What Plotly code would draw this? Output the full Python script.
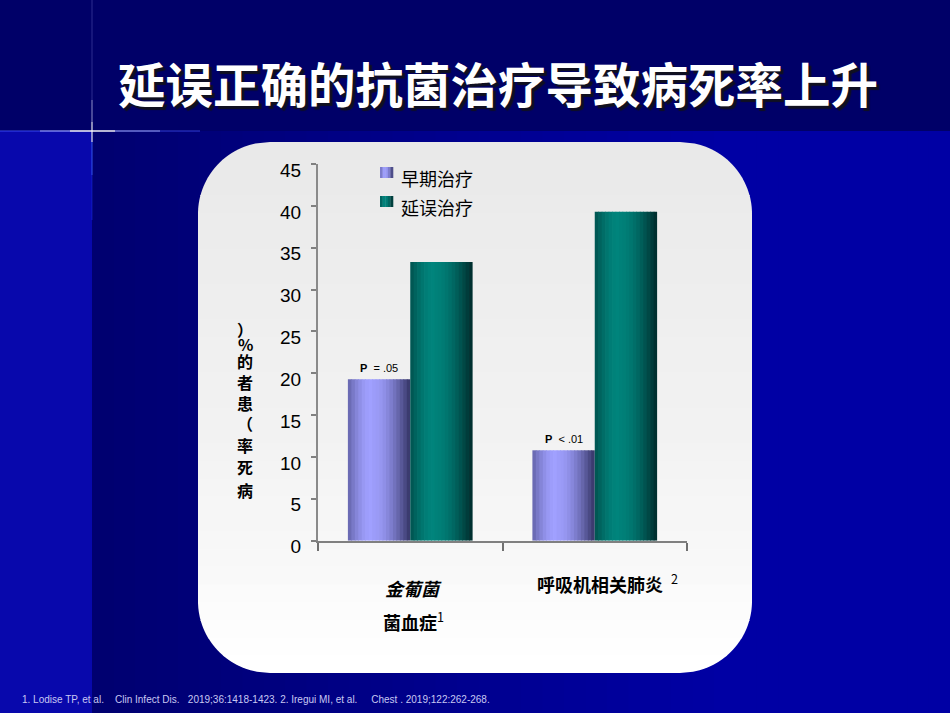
import math
import plotly.graph_objects as go

W, H = 950, 713

# ---------------- data ----------------
categories = ["金葡菌菌血症", "呼吸机相关肺炎"]
category_label_lines = [
    ["<b><i>金葡菌</i></b>", "<b>菌血症</b><sup>1</sup>"],
    ["<b>呼吸机相关肺炎</b>  <sup>2</sup>"],
]
series_names = ["早期治疗", "延误治疗"]
early_values = [19.3, 10.8]
delayed_values = [33.3, 39.3]
p_labels = ["<b>P</b>  = .05", "<b>P</b>  &lt; .01"]
y_tick_values = [0, 5, 10, 15, 20, 25, 30, 35, 40, 45]
title_text = "延误正确的抗菌治疗导致病死率上升"
y_title = "病死率（患者的%）"
footnote = ("1. Lodise TP, et al.\u00a0\u00a0\u00a0 Clin Infect Dis.\u00a0\u00a0 2019;36:1418-1423. "
            "2. Iregui MI, et al.\u00a0\u00a0\u00a0\u00a0 Chest . 2019;122:262-268.")

CJK = "Noto Sans CJK SC"
LAT = "Liberation Sans, Arial, Noto Sans CJK SC"


def px(x):
    return x / W


def py(y):
    return 1 - y / H


def rgb(c):
    return "rgb(%d,%d,%d)" % tuple(int(round(v)) for v in c)


def lerp(a, b, t):
    return tuple(a[i] + (b[i] - a[i]) * t for i in range(3))


def shade(t, dark, light, p=0.38, left=0.45):
    if t < p:
        g = left + (1 - left) * math.sin(math.pi / 2 * t / p)
    else:
        g = math.cos(math.pi / 2 * (t - p) / (1 - p)) * 0.97
    return rgb(lerp(dark, light, g))


fig = go.Figure()

# ---------------- bars (cylindrical shading via overlaid strips) ----------------
BW = 0.338
NS = 18
series = [
    (early_values, (52, 52, 100), (160, 160, 255), -BW),
    (delayed_values, (0, 42, 42), (0, 132, 124), 0.0),
]
for s, (vals, dark, light, base) in enumerate(series):
    for k in range(NS):
        t = (k + 0.5) / NS
        w = BW / NS + (0.004 if k < NS - 1 else 0)
        fig.add_trace(go.Bar(
            x=categories, y=vals,
            width=[w] * len(vals), offset=[base + k * BW / NS] * len(vals),
            marker=dict(color=shade(t, dark, light), line=dict(width=0)),
            name=series_names[s], legendgroup=series_names[s],
            showlegend=False, hoverinfo="skip",
        ))

shapes = []

# ---------------- background ----------------
shapes.append(dict(type="rect", xref="paper", yref="paper", x0=0, x1=1, y0=0, y1=1,
                   fillcolor="#000068", line=dict(width=0), layer="below"))
shapes.append(dict(type="rect", xref="paper", yref="paper", x0=0, x1=px(92), y0=py(713), y1=py(131),
                   fillcolor="#0808AC", line=dict(width=0), layer="below"))
nstrip = 40
for i in range(nstrip):
    xa = 92 + (W - 92) * i / nstrip
    xb = 92 + (W - 92) * (i + 1) / nstrip + 1
    t = min(1.0, (xa - 92) / 620)
    col = lerp((0, 0, 112), (0, 0, 164), t)
    shapes.append(dict(type="rect", xref="paper", yref="paper", x0=px(xa), x1=px(min(xb, W)),
                       y0=py(713), y1=py(131), fillcolor=rgb(col), line=dict(width=0), layer="below"))

# cross-shaped glow lines
hsegs = [(0, 40, "rgba(70,90,255,0.55)"), (40, 70, "rgba(150,160,255,0.8)"), (70, 115, "rgba(255,255,255,0.95)"),
         (115, 160, "rgba(150,160,255,0.75)"), (160, 200, "rgba(70,90,255,0.45)")]
for a, b, c in hsegs:
    shapes.append(dict(type="line", xref="paper", yref="paper", x0=px(a), x1=px(b), y0=py(131), y1=py(131),
                       line=dict(color=c, width=1.5), layer="below"))
vsegs = [(0, 100, "rgba(170,170,255,0.22)"), (100, 122, "rgba(220,220,255,0.55)"), (122, 142, "rgba(255,255,255,0.9)"),
         (142, 175, "rgba(60,100,255,0.7)"), (175, 220, "rgba(40,70,255,0.3)")]
for a, b, c in vsegs:
    shapes.append(dict(type="line", xref="paper", yref="paper", x0=px(92), x1=px(92), y0=py(a), y1=py(b),
                       line=dict(color=c, width=1.2), layer="below"))

# ---------------- rounded panel with vertical gradient ----------------
PX0, PY0, PX1, PY1, R = 198, 142, 752, 673, 72


def x_edges(y):
    if y < PY0 + R:
        d = R - math.sqrt(max(0.0, R * R - (PY0 + R - y) ** 2))
    elif y > PY1 - R:
        d = R - math.sqrt(max(0.0, R * R - (y - (PY1 - R)) ** 2))
    else:
        d = 0.0
    return PX0 + d, PX1 - d


def band_path(ya, yb):
    ys = []
    y = ya
    while y < yb:
        ys.append(y)
        y += 1.5
    ys.append(yb)
    left = [(x_edges(v)[0], v) for v in ys]
    right = [(x_edges(v)[1], v) for v in reversed(ys)]
    pts = left + right
    return "M " + " L ".join("%.5f,%.5f" % (px(a), py(b)) for a, b in pts) + " Z"


stops = [(142, 233), (300, 238), (450, 243), (560, 248), (620, 253), (673, 255)]


def panel_gray(y):
    for (ya, ca), (yb, cb) in zip(stops[:-1], stops[1:]):
        if ya <= y <= yb:
            return ca + (cb - ca) * (y - ya) / (yb - ya)
    return stops[-1][1]


nb = 30
for i in range(nb):
    ya = PY0 + (PY1 - PY0) * i / nb
    yb = min(PY1, PY0 + (PY1 - PY0) * (i + 1) / nb + 1)
    g = panel_gray((ya + yb) / 2)
    shapes.append(dict(type="path", xref="paper", yref="paper", path=band_path(ya, yb),
                       fillcolor=rgb((g, g, g)), line=dict(width=0), layer="below"))

# ---------------- legend (drawn) ----------------
leg_items = [(167, 178, (52, 52, 100), (160, 160, 255), 178.5),
             (196, 207, (0, 42, 42), (0, 132, 124), 206.5)]
annotations = []
for (ya, yb, dark, light, ty), name in zip(leg_items, series_names):
    n = 5
    for k in range(n):
        t = (k + 0.5) / n
        xa = 380 + 13 * k / n
        xb = 380 + 13 * (k + 1) / n + 0.3
        shapes.append(dict(type="rect", xref="paper", yref="paper", x0=px(xa), x1=px(xb),
                           y0=py(yb), y1=py(ya), fillcolor=shade(t, dark, light), line=dict(width=0)))
    annotations.append(dict(xref="paper", yref="paper", x=px(399), y=py(ty), xanchor="left", yanchor="middle",
                            text=name, showarrow=False, font=dict(family=CJK, size=18, color="black")))

# ---------------- title with shadow ----------------
annotations.append(dict(xref="paper", yref="paper", x=px(498), y=py(82), xanchor="center", yanchor="middle",
                        text="<b>%s</b>" % title_text, showarrow=False,
                        font=dict(family=CJK, size=47.5, color="white",
                                  shadow="3px 3px 1px #101020")))

# ---------------- y-axis title (stacked characters, read bottom to top) ----------------
char_y = [490, 467, 445, 423, 403, 382, 361, 344, 329]   # positions of 病 死 率 （ 患 者 的 % ）
for ch, yy in zip(y_title, char_y):
    annotations.append(dict(xref="paper", yref="paper", x=px(245), y=py(yy), xanchor="center",
                            yanchor="middle", text="<b>%s</b>" % ch, showarrow=False,
                            font=dict(family=CJK, size=16, color="black")))

# ---------------- p-value labels ----------------
for i, (v, lab) in enumerate(zip(early_values, p_labels)):
    annotations.append(dict(xref="x", yref="y", x=i - BW / 2, y=v, xanchor="center", yanchor="bottom",
                            yshift=3, text=lab, showarrow=False,
                            font=dict(family=LAT, size=11, color="black")))

# ---------------- category labels ----------------
cat_pos = [[(3, 588), (3, 621)], [(13, 583)]]
for i, lines in enumerate(category_label_lines):
    for (xs, yy), txt in zip(cat_pos[i], lines):
        annotations.append(dict(xref="x", yref="paper", x=i, xshift=xs, y=py(yy), xanchor="center",
                                yanchor="middle", text=txt, showarrow=False,
                                font=dict(family=CJK, size=18, color="black")))

# ---------------- footnote ----------------
annotations.append(dict(xref="paper", yref="paper", x=px(20), y=py(699), xanchor="left", yanchor="middle",
                        text=footnote, showarrow=False,
                        font=dict(family="Liberation Sans Narrow, Arial Narrow, Liberation Sans", size=10,
                                  color="#C8C8F2")))

fig.update_layout(
    width=W, height=H,
    margin=dict(l=0, r=0, t=0, b=0, pad=0, autoexpand=False),
    paper_bgcolor="#000068", plot_bgcolor="rgba(0,0,0,0)",
    barmode="overlay", showlegend=False,
    shapes=shapes, annotations=annotations,
    xaxis=dict(domain=[px(318), px(687)], type="category", categoryorder="array", categoryarray=categories,
               range=[-0.5, 1.5], showline=True, linecolor="#808080", linewidth=2,
               ticks="outside", tickson="boundaries", ticklen=8, tickcolor="#707070", tickwidth=1.5,
               showticklabels=False, showgrid=False, zeroline=False, fixedrange=True),
    yaxis=dict(domain=[py(540.7), py(164)], range=[0, 45], tickmode="array", tickvals=y_tick_values,
               ticks="outside", ticklen=5, tickcolor="#808080", tickwidth=2,
               showline=True, linecolor="#8a8a8a", linewidth=2, showgrid=False, zeroline=False,
               tickfont=dict(family=LAT, size=19, color="black"), ticklabelshift=6, ticklabelstandoff=6,
               fixedrange=True),
)

fig.write_html("out.html")
